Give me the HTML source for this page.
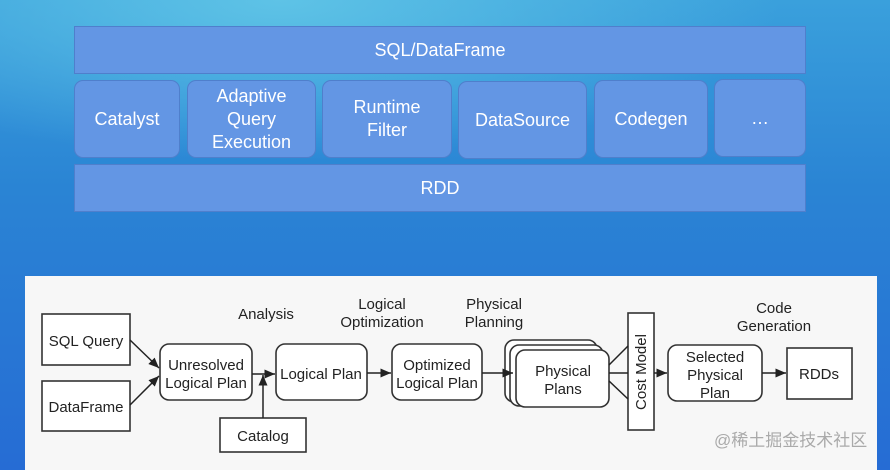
<!DOCTYPE html>
<html><head><meta charset="utf-8"><style>
body{margin:0;width:890px;height:470px;overflow:hidden;font-family:"Liberation Sans","Noto Sans CJK SC",sans-serif;}
.bg{position:absolute;left:0;top:0;width:890px;height:470px;background:radial-gradient(ellipse 500px 160px at 280px 0px,#5ec3e6 0%,rgba(80,180,230,0) 100%),linear-gradient(180deg,#3aa0dc 0%,#2a84d4 40%,#266cd4 100%);}
.b{position:absolute;background:#6396e4;border:1px solid #4f7fcc;color:#fff;display:flex;align-items:center;justify-content:center;text-align:center;font-size:18px;line-height:23px;box-sizing:border-box;}
.r{border-radius:9px;}
.w{position:absolute;left:25px;top:276px;width:852px;height:194px;background:#f7f7f7;}
svg{position:absolute;left:0;top:0}
</style></head><body>
<div class="bg"></div>
<div class="b" style="left:74px;top:26px;width:732px;height:48px">SQL/DataFrame</div>
<div class="b r" style="left:74px;top:80px;width:106px;height:78px">Catalyst</div>
<div class="b r" style="left:187px;top:80px;width:129px;height:78px">Adaptive<br>Query<br>Execution</div>
<div class="b r" style="left:322px;top:80px;width:130px;height:78px">Runtime<br>Filter</div>
<div class="b r" style="left:458px;top:81px;width:129px;height:78px">DataSource</div>
<div class="b r" style="left:594px;top:80px;width:114px;height:78px">Codegen</div>
<div class="b r" style="left:714px;top:79px;width:92px;height:78px">…</div>
<div class="b" style="left:74px;top:164px;width:732px;height:48px">RDD</div>
<div class="w"></div>
<svg width="890" height="470" font-family="Liberation Sans, sans-serif" font-size="15" fill="#222">
<defs><marker id="a" markerWidth="8" markerHeight="8" refX="7" refY="4" orient="auto"><path d="M0,1 L7,4 L0,7z" fill="#222"/></marker></defs>
<g stroke="#333" stroke-width="1.6" fill="#fff">
<rect x="42" y="314" width="88" height="51"/>
<rect x="42" y="381" width="88" height="50"/>
<rect x="160" y="344" width="92" height="56" rx="9"/>
<rect x="276" y="344" width="91" height="56" rx="9"/>
<rect x="392" y="344" width="90" height="56" rx="9"/>
<rect x="505" y="340" width="92" height="62" rx="9"/>
<rect x="510" y="345" width="93" height="61" rx="9"/>
<rect x="516" y="350" width="93" height="57" rx="9"/>
<rect x="628" y="313" width="26" height="117"/>
<rect x="668" y="345" width="94" height="56" rx="9"/>
<rect x="787" y="348" width="65" height="51"/>
<rect x="220" y="418" width="86" height="34"/>
</g>
<g stroke="#222" stroke-width="1.5" fill="none" marker-end="url(#a)">
<line x1="130" y1="340" x2="159" y2="368"/>
<line x1="130" y1="405" x2="159" y2="376"/>
<line x1="252" y1="374" x2="275" y2="374"/>
<line x1="263" y1="418" x2="263" y2="375"/>
<line x1="367" y1="373" x2="391" y2="373"/>
<line x1="482" y1="373" x2="513" y2="373"/>
<line x1="654" y1="373" x2="667" y2="373"/>
<line x1="762" y1="373" x2="786" y2="373"/>
</g>
<g stroke="#222" stroke-width="1.5"><line x1="609" y1="365" x2="628" y2="346"/><line x1="609" y1="373" x2="628" y2="373"/><line x1="609" y1="381" x2="628" y2="399"/></g>
<g text-anchor="middle">
<text x="86" y="346">SQL Query</text>
<text x="86" y="412">DataFrame</text>
<text x="206" y="370">Unresolved</text><text x="206" y="388">Logical Plan</text>
<text x="321" y="379">Logical Plan</text>
<text x="437" y="370">Optimized</text><text x="437" y="388">Logical Plan</text>
<text x="563" y="376">Physical</text><text x="563" y="394">Plans</text>
<text x="715" y="362">Selected</text><text x="715" y="380">Physical</text><text x="715" y="398">Plan</text>
<text x="819" y="379">RDDs</text>
<text x="263" y="441">Catalog</text>
<text x="266" y="319">Analysis</text>
<text x="382" y="309">Logical</text><text x="382" y="327">Optimization</text>
<text x="494" y="309">Physical</text><text x="494" y="327">Planning</text>
<text x="774" y="313">Code</text><text x="774" y="331">Generation</text>
<text transform="translate(646,372) rotate(-90)">Cost Model</text>
</g>
<text x="714" y="446" font-family="Liberation Sans, Noto Sans CJK SC, sans-serif" font-size="17" fill="#aaa">@稀土掘金技术社区</text>
</svg>
</body></html>
